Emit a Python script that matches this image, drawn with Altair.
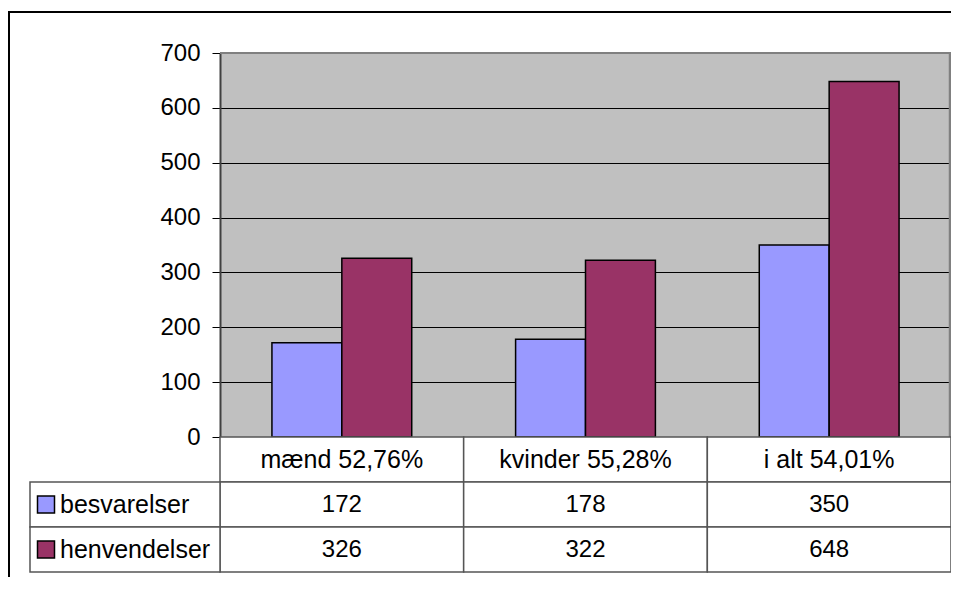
import altair as alt
import pandas as pd

# ---- data ----
categories = ["mænd 52,76%", "kvinder 55,28%", "i alt 54,01%"]
series_names = ["besvarelser", "henvendelser"]
besvarelser = [172, 178, 350]
henvendelser = [326, 322, 648]
y_ticks = [0, 100, 200, 300, 400, 500, 600, 700]
colors = ["#9999FF", "#993366"]

# ---- layout constants (pixels) ----
W, HP, HT = 731, 384, 135
FONT = "Liberation Sans"
FS = 24
FS_WORD = 25
LINE = "#555555"

bars_df = pd.DataFrame({
    "cat": categories * 2,
    "series": [series_names[0]] * 3 + [series_names[1]] * 3,
    "value": besvarelser + henvendelser,
})

rows = ["hdr"] + series_names
table_records = []
for i, c in enumerate(categories):
    table_records.append({"row": "hdr", "cat": c, "text": c})
    table_records.append({"row": series_names[0], "cat": c, "text": str(besvarelser[i])})
    table_records.append({"row": series_names[1], "cat": c, "text": str(henvendelser[i])})
table_df = pd.DataFrame(table_records)

legend_df = pd.DataFrame({"row": series_names, "series": series_names, "label": series_names})
one = pd.DataFrame({"k": [0]})

x_scale = alt.Scale(domain=categories, paddingInner=0, paddingOuter=0)
xoff_scale = alt.Scale(domain=series_names, paddingInner=0, paddingOuter=0.743)
y_scale = alt.Scale(domain=[0, 700], range=[HP, 0], nice=False)
row_scale = alt.Scale(domain=rows, range=[HP, HP + HT], paddingInner=0, paddingOuter=0)
color_scale = alt.Scale(domain=series_names, range=colors)

X = alt.X("cat:N", scale=x_scale, axis=None, sort=categories)
ROW = alt.Y("row:N", scale=row_scale, axis=None, sort=rows)

bars = alt.Chart(bars_df).mark_bar(stroke="black", strokeWidth=1.5).encode(
    x=X,
    xOffset=alt.XOffset("series:N", scale=xoff_scale, sort=series_names),
    y=alt.Y("value:Q", scale=y_scale, axis=alt.Axis(
        values=y_ticks, grid=True, gridColor="black", gridWidth=1,
        tickColor="black", tickSize=8, tickWidth=1,
        domainColor="#404040", domainWidth=2,
        labelFont=FONT, labelFontSize=FS, labelColor="black",
        labelPadding=12, labelFlush=False, title=None)),
    color=alt.Color("series:N", scale=color_scale, legend=None),
)

plot_right = alt.Chart(one).mark_rule(color="#808080", strokeWidth=2.5).encode(
    x=alt.value(W - 1), y=alt.value(0), y2=alt.value(HP))
plot_top = alt.Chart(one).mark_rule(color="#808080", strokeWidth=2).encode(
    x=alt.value(0), x2=alt.value(W), y=alt.value(0))

cells = alt.Chart(table_df).mark_rect(fill="white", stroke=LINE, strokeWidth=1.5).encode(
    x=X, y=ROW)
cell_text = alt.Chart(table_df).mark_text(
    font=FONT, color="black", baseline="middle", align="center").encode(
    x=X, y=ROW, text="text:N",
    size=alt.condition(alt.datum.row == "hdr", alt.value(FS_WORD), alt.value(FS)))

leg_cells = alt.Chart(legend_df).mark_rect(fill="white", stroke=LINE, strokeWidth=1.5).encode(
    x=alt.value(-190), x2=alt.value(0), y=ROW)
leg_swatch = alt.Chart(legend_df).mark_square(
    size=289, filled=True, opacity=1, stroke="black", strokeWidth=1.5).encode(
    x=alt.value(-174), y=ROW,
    color=alt.Color("series:N", scale=color_scale, legend=None))
leg_text = alt.Chart(legend_df).mark_text(
    font=FONT, fontSize=FS_WORD, color="black", baseline="middle", align="left").encode(
    x=alt.value(-160), y=ROW, text="label:N")

frame_left = alt.Chart(one).mark_rule(color="black", strokeWidth=2).encode(
    x=alt.value(-211), y=alt.value(-42), y2=alt.value(HP + HT + 6))
frame_top = alt.Chart(one).mark_rule(color="black", strokeWidth=2).encode(
    x=alt.value(-212), x2=alt.value(W + 2), y=alt.value(-41))

chart = alt.layer(
    bars, plot_right, plot_top, cells, cell_text,
    leg_cells, leg_swatch, leg_text, frame_left, frame_top,
).resolve_scale(y="independent").properties(
    width=W, height=HP + HT,
    autosize=alt.AutoSizeParams(type="none"),
    padding={"left": 212, "top": 45, "right": 0, "bottom": 5},
).configure_view(fill="#C0C0C0", strokeWidth=0)

chart.save("out.html", embed_options={"renderer": "svg", "actions": False})
